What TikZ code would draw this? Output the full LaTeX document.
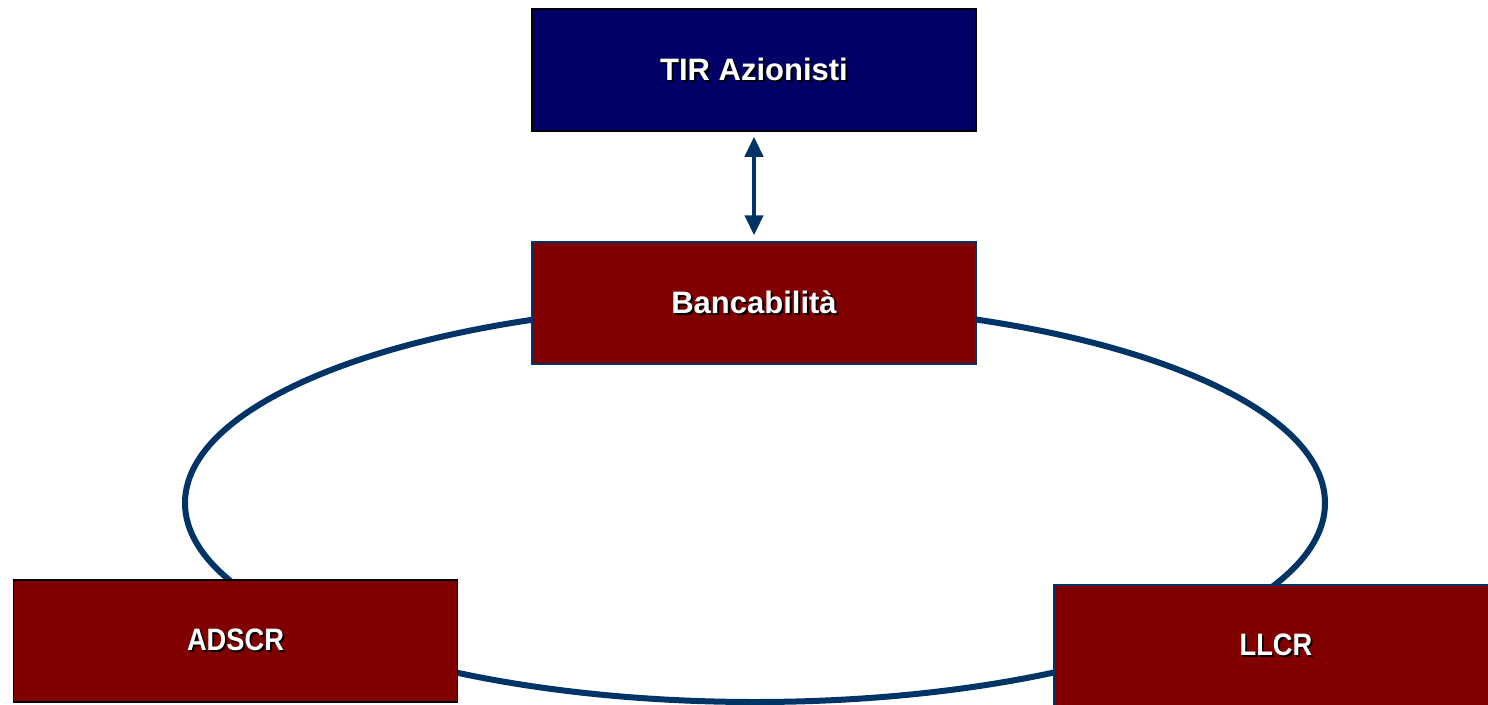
\documentclass[tikz,border=0pt]{standalone}
\usepackage{fontspec}
\setmainfont{Liberation Sans}
\usetikzlibrary{arrows.meta}
\definecolor{navyfill}{HTML}{000066}
\definecolor{maroonfill}{HTML}{800000}
\definecolor{linkblue}{HTML}{003366}
% white label with a small black drop shadow
\newcommand{\shadowed}[1]{\rlap{\hspace{2pt}\raisebox{-2pt}{\color{black}#1}}#1}
\tikzset{
  box/.style={rectangle, minimum width=444pt, minimum height=122pt, inner sep=0pt,
    line width=1.5pt, text=white, font=\fontsize{31}{37}\selectfont\bfseries},
  topbox/.style={box, fill=navyfill, draw=black},
  redbox/.style={box, fill=maroonfill, draw=linkblue},
  redboxdark/.style={box, fill=maroonfill, draw=black},
  cycle/.style={draw=linkblue, line width=6pt},
  link/.style={draw=linkblue, line width=4.5pt,
    {Triangle[width=18pt,length=20pt]}-{Triangle[width=18pt,length=20pt]}}
}
\begin{document}
\begin{tikzpicture}[x=1pt,y=-1pt]
  \clip (0,0) rectangle (1488,704);
  \useasboundingbox (0,0) rectangle (1488,704);
  \fill[white] (0,0) rectangle (1488,704);

  % ring linking the three ratios
  \draw[cycle] (755,503) ellipse [x radius=570, y radius=199];

  \node[topbox] (tir) at (754,70) {\shadowed{TIR Azionisti}};
  \node[redbox] (banc) at (754,303) {\shadowed{Bancabilità}};
  \node[redboxdark] (adscr) at (235.5,641) {\scalebox{0.88}[1]{\shadowed{ADSCR}}};
  \node[redbox] (llcr) at (1276,646) {\scalebox{0.88}[1]{\shadowed{LLCR}}};

  \draw[link] ([yshift=-5pt]tir.south) -- ([yshift=6pt]banc.north);
\end{tikzpicture}
\end{document}
